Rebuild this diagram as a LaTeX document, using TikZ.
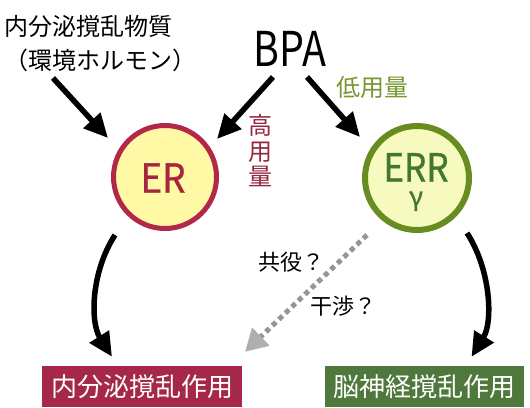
\documentclass[tikz,border=0pt]{standalone}
\usepackage{fontspec}
\setmainfont{Noto Sans CJK JP}
\newfontfamily\medfont[FakeBold=0.8]{Noto Sans CJK JP}
\usetikzlibrary{arrows.meta,calc}
\definecolor{erred}{RGB}{178,40,72}
\definecolor{ertext}{RGB}{165,38,62}
\definecolor{erfill}{RGB}{255,248,165}
\definecolor{errgreen}{RGB}{104,140,32}
\definecolor{errtext}{RGB}{66,118,50}
\definecolor{errfill}{RGB}{246,250,190}
\definecolor{lowgreen}{RGB}{118,150,48}
\definecolor{highred}{RGB}{150,40,62}
\definecolor{boxred}{RGB}{165,40,72}
\definecolor{boxgreen}{RGB}{78,120,60}
\definecolor{dotgray}{RGB}{150,150,150}
\definecolor{headgray}{RGB}{175,175,175}
\begin{document}
\begin{tikzpicture}[x=1pt,y=-1pt,
  arr/.style={line width=5.5pt,draw=black,-{Triangle[length=24pt,width=22pt]}},
  lab/.style={font=\fontsize{22}{26}\selectfont,inner sep=0pt},
  ring/.style={circle,inner sep=0pt},
  resbox/.style={rectangle,inner sep=0pt,minimum width=200pt,minimum height=41pt,text=white,font=\fontsize{26}{28}\selectfont}]
\useasboundingbox (0,0) rectangle (530,407);
\fill[white] (0,0) rectangle (530,407);

% nodes
\node[font=\fontsize{24}{34}\selectfont,align=left,inner sep=0pt] (edc) at (101,44) {内分泌撹乱物質\\（環境ホルモン）};
\node[font=\fontsize{48}{50}\selectfont,inner sep=0pt] (bpa) at (290,49) {\scalebox{0.82}[1]{BPA}};
\node[ring,draw=erred,line width=5pt,fill=erfill,minimum size=103pt] (er) at (165,177) {};
\node[font=\medfont\fontsize{40}{40}\selectfont,text=ertext,inner sep=0pt] (ertxt) at (163,178) {\scalebox{0.92}[1]{ER}};
\node[ring,draw=errgreen,line width=6pt,fill=errfill,minimum size=104pt] (err) at (417,178) {};
\node[font=\medfont\fontsize{39}{40}\selectfont,text=errtext,inner sep=0pt,align=center] (errtxt) at (416,182) {\scalebox{0.9}[1]{ERR}\\[-16pt]{\fontsize{26}{26}\selectfont γ}};
\node[font=\fontsize{24}{25.5}\selectfont,text=highred,align=center,inner sep=0pt] (high) at (260,151) {高\\用\\量};
\node[font=\fontsize{24}{26}\selectfont,text=lowgreen,inner sep=0pt] (low) at (372,87) {低用量};
\node[lab] (kyo) at (291,262) {共役？};
\node[lab] (kan) at (343,306) {干渉？};
\node[resbox,fill=boxred] (box1) at (142,386.5) {内分泌撹乱作用};
\node[resbox,fill=boxgreen,minimum width=199pt] (box2) at (424.5,386.5) {脳神経撹乱作用};

% connectors
\draw[arr] ([shift={(-48,34)}]edc.center) -- ([shift={(-57,-39)}]er.center);
\draw[arr] ([shift={(-17,28)}]bpa.center) -- ([shift={(52,-38)}]er.center);
\draw[arr] ([shift={(17,28)}]bpa.center) -- ([shift={(-57,-41)}]err.center);
\draw[arr] ([shift={(-50,58)}]er.center) .. controls (91,272) and (90,322) .. ([shift={(-30,-9)}]box1.north);
\draw[arr] ([shift={(50,55)}]err.center) .. controls (491,270) and (493,322) .. ([shift={(47,-9)}]box2.north);
\draw[line width=5pt,draw=dotgray,dash pattern=on 5pt off 4pt,
  -{Triangle[length=22pt,width=24pt,color=headgray]}]
  ([shift={(-50,57)}]err.center) -- ([shift={(103,-14)}]box1.north);
\end{tikzpicture}
\end{document}
